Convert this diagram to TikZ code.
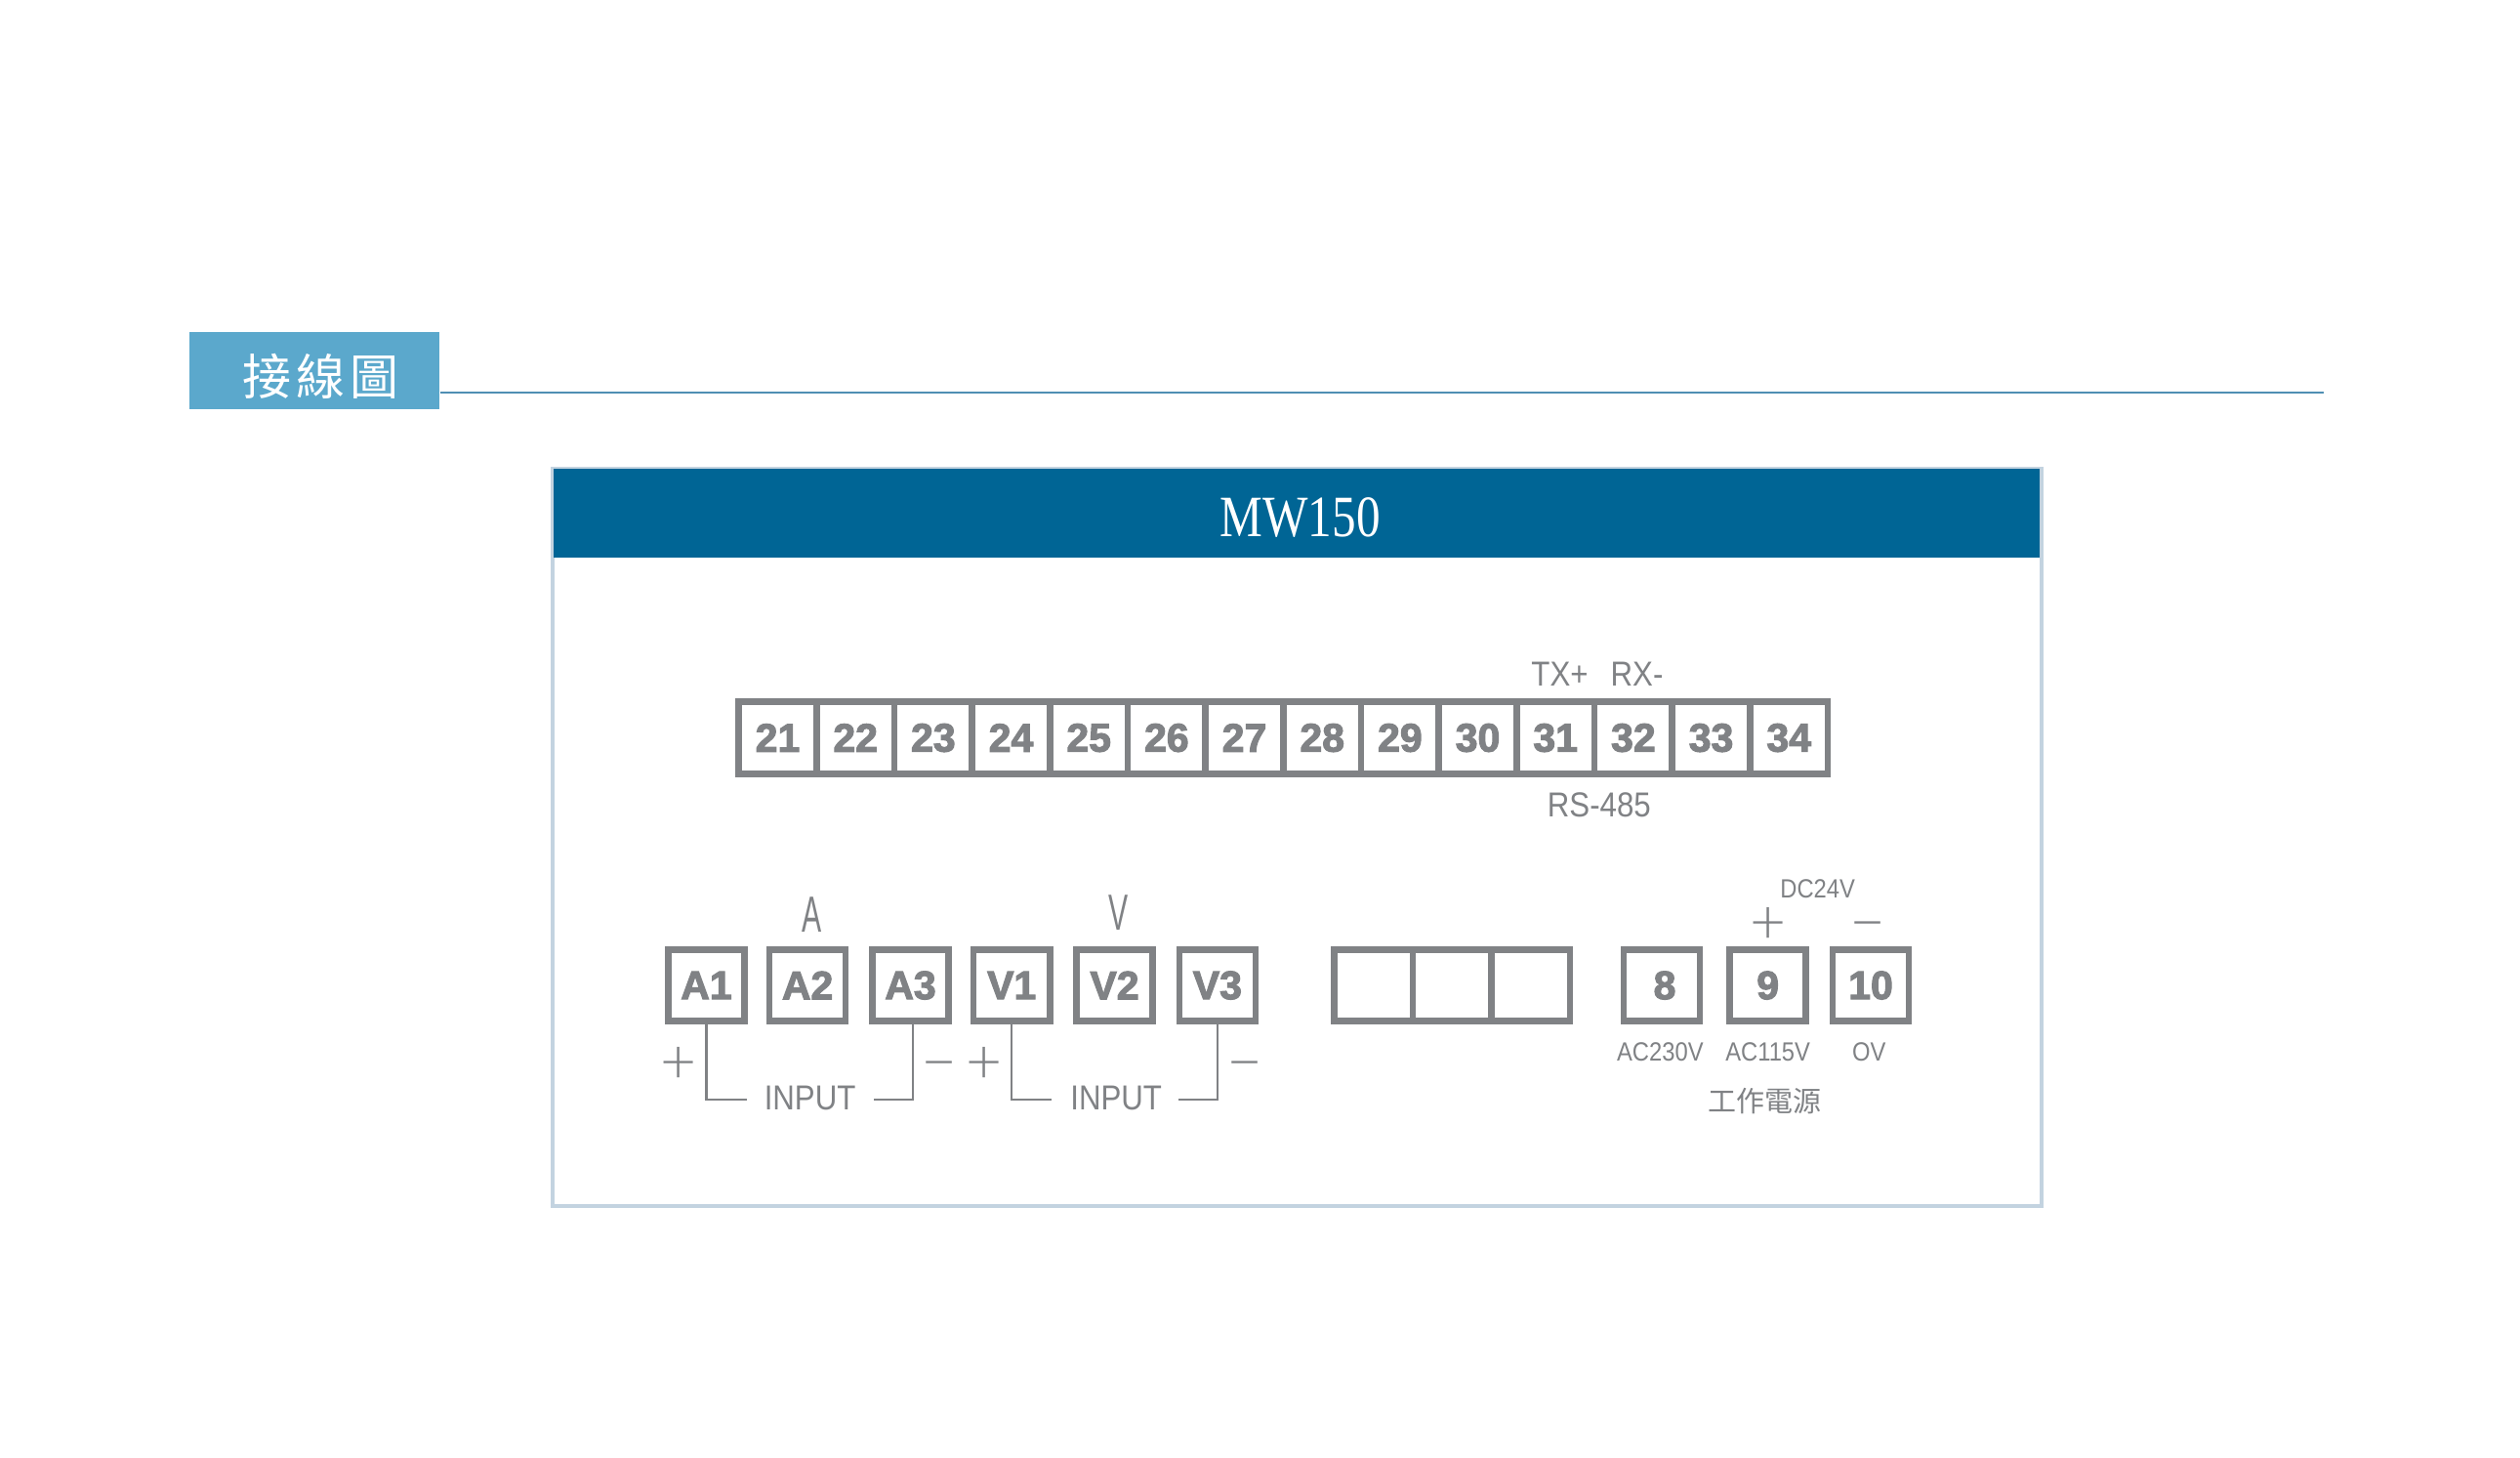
\documentclass[tikz,border=0pt]{standalone}
\usepackage{fontspec}
\setmainfont{Liberation Sans}
\newfontfamily\boldnum[FakeBold=2.6]{Liberation Sans Bold}
\newfontfamily\narrowf[FakeStretch=0.88]{Liberation Sans}
\newfontfamily\vnarrowf[FakeStretch=0.58]{Liberation Sans}
\newfontfamily\serift[FakeStretch=0.82]{Liberation Serif}
\newfontfamily\cjk{Noto Sans CJK TC}
\newfontfamily\signf{Lato Light}
\definecolor{termgray}{HTML}{808285}
\definecolor{tabblue}{HTML}{5BA8CC}
\definecolor{headblue}{HTML}{006595}
\definecolor{rulebl}{HTML}{4F8FB3}
\definecolor{panelb}{HTML}{C3D3E0}
\tikzset{
  term/.style={draw=termgray,line width=6.6pt,rectangle,inner sep=0pt,outer sep=0pt,fill=white,
    minimum width=#1,minimum height=73.5pt,text=termgray,font=\boldnum\fontsize{41}{41}\selectfont},
  lbl/.style={inner sep=0pt,text=termgray,font=\narrowf\fontsize{35.5}{35.5}\selectfont},
  smalllbl/.style={inner sep=0pt,text=termgray,font=\narrowf\fontsize{27}{27}\selectfont},
  biglbl/.style={inner sep=0pt,text=termgray,font=\vnarrowf\fontsize{52}{52}\selectfont},
  sign/.style={inner sep=0pt,anchor=base,text=termgray,font=\signf\fontsize{64}{64}\selectfont},
  wire/.style={draw=termgray,line width=2.4pt}
}
\begin{document}
\begin{tikzpicture}[x=1.646pt,y=-1.646pt]
\useasboundingbox (0,0) rectangle (1568,907);
% title tab and rule
\node[fill=tabblue,minimum width=256.5pt,minimum height=79pt,inner sep=0pt] (tab) at (195.7,230.8) {};
\node[inner sep=0pt,text=white,font=\cjk\fontsize{50}{50}\selectfont] (tabtext) at (199.8,234) {接\hspace{5pt}線\hspace{5pt}圖};
\coordinate (ruleend) at (1446,244.5);
\draw[rulebl,line width=2pt] (tab.east |- ruleend) -- (ruleend);
% panel
\node[draw=panelb,line width=4pt,fill=white,minimum width=1525.5pt,minimum height=755pt,inner sep=0pt] (panel) at (807,521) {};
\node[fill=headblue,minimum width=1522pt,minimum height=91pt,inner sep=0pt] (head) at (807,319.3) {};
\node[inner sep=0pt,text=white,font=\serift\fontsize{60}{60}\selectfont] (title) at (809,322) {MW150};
% top row
\foreach \n [count=\i from 0] in {21,...,34} {
  \pgfmathsetmacro\cx{483.9+48.4*\i}
  \node[term=79.7pt] (t\n) at (\cx,459) {\n};
}
\node[lbl] (tx) at (970.5,419.5) {TX+};
\node[lbl] (rx) at (1018.5,419.5) {RX-};
\node[lbl] (rs) at (995,501) {RS-485};
% lower row
\foreach \n/\x in {A1/439.5,A2/502.5,A3/566.5,V1/629.5,V2/693.5,V3/757.5,9/1100,10/1164} {
  \node[term=78pt] (b\n) at (\x,613) {\n};
}
\node[term=78pt] (b8) at (1034,613) {\hspace{6pt}8};
\foreach \n/\x in {x/854.5,y/903.5,z/952.5} {
  \node[term=80.6pt] (b\n) at (\x,613) {};
}
\node[biglbl] (la) at (505,569) {A};
\node[biglbl] (lv) at (696,568) {V};
\node[sign] (p1) at (422,674) {+};
\node[sign] (m1) at (584.5,674) {−};
\node[sign] (p2) at (612.5,674) {+};
\node[sign] (m2) at (774.5,674) {−};
\node[sign] (p3) at (1100,587) {+};
\node[sign] (m3) at (1162.5,587) {−};
\node[lbl] (in1) at (504,683) {INPUT};
\node[lbl] (in2) at (694.5,683) {INPUT};
\coordinate (w1) at (464.5,684);
\coordinate (w2) at (544,684);
\coordinate (w3) at (654.5,684);
\coordinate (w4) at (733.5,684);
\draw[wire] (bA1.south) |- (w1);
\draw[wire] ([xshift=2.4pt]bA3.south) |- (w2);
\draw[wire] (bV1.south) |- (w3);
\draw[wire] (bV3.south) |- (w4);
\node[smalllbl] (dc) at (1131,553) {DC24V};
\node[smalllbl] (ac1) at (1033,654.5) {AC230V};
\node[smalllbl] (ac2) at (1100,654.5) {AC115V};
\node[smalllbl] (ov) at (1163,654.5) {OV};
\node[inner sep=0pt,text=termgray,font=\cjk\fontsize{29}{29}\selectfont] (pw) at (1098,685) {工作電源};
\end{tikzpicture}
\end{document}
